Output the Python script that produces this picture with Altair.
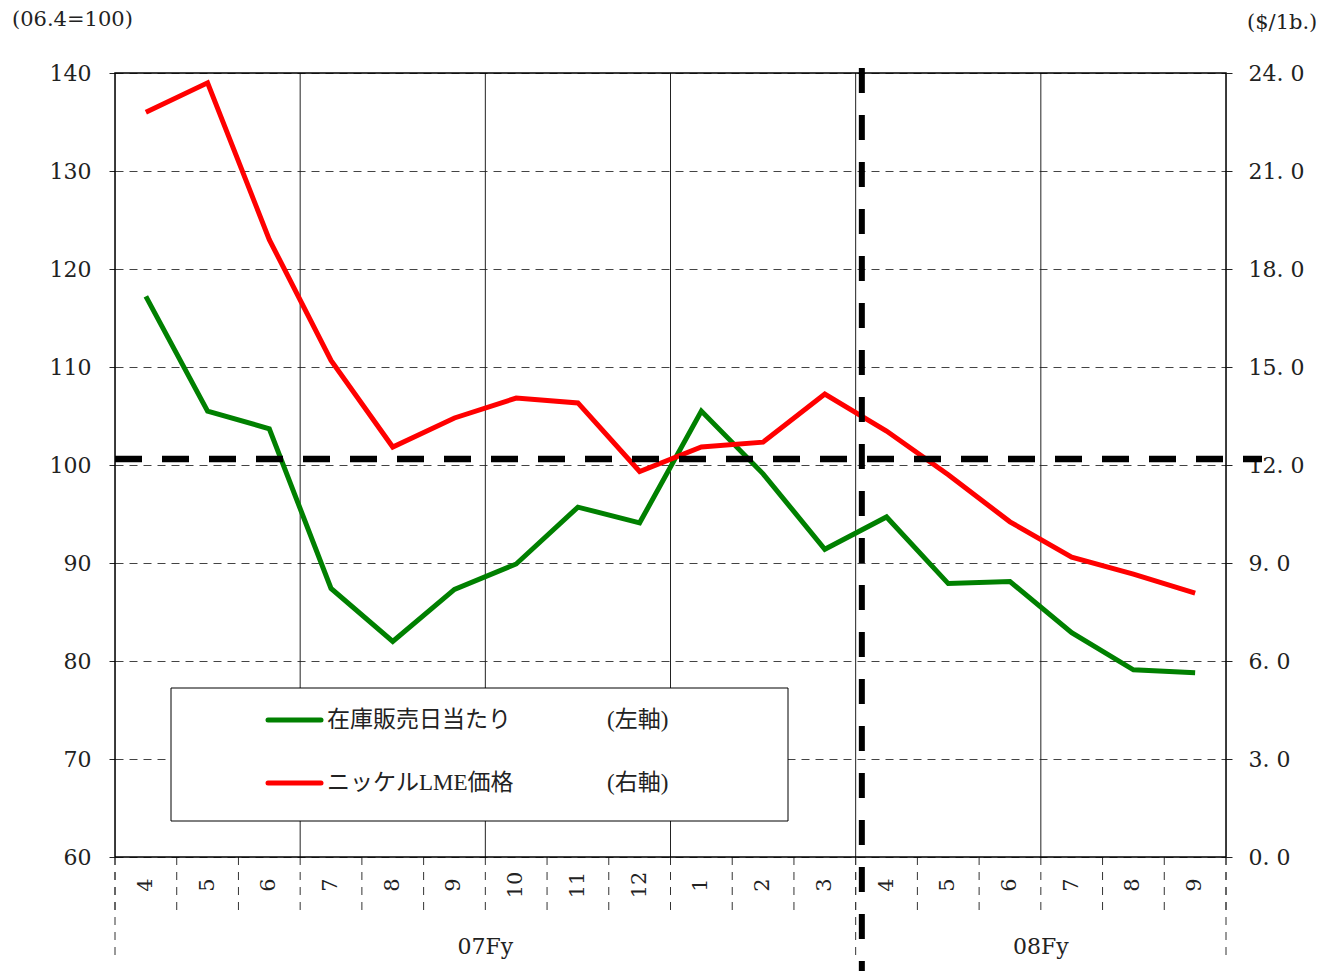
import altair as alt
import pandas as pd

months = ["4", "5", "6", "7", "8", "9", "10", "11", "12", "1", "2", "3",
          "4", "5", "6", "7", "8", "9"]
inventory = [117.2, 105.5, 103.7, 87.4, 82.0, 87.3, 89.9, 95.7, 94.1, 105.5,
             99.1, 91.4, 94.7, 87.9, 88.1, 82.9, 79.1, 78.8]
nickel = [22.8, 23.7, 18.9, 15.2, 12.55, 13.44, 14.05, 13.9, 11.8, 12.55,
          12.7, 14.17, 13.04, 11.7, 10.26, 9.18, 8.66, 8.08]
fy_labels = ["07Fy", "08Fy"]
fy_centers = [6, 15]
fy_bounds = [0, 12, 18]
quarter_bounds = [3, 6, 9, 12, 15]
ref_level = 100.6
fy_split = 12.1
legend_names = ["在庫販売日当たり", "ニッケルLME価格"]
legend_axes = ["(左軸)", "(右軸)"]

W, H = 1111, 784
SERIF = "DejaVu Serif, Noto Sans CJK JP"
LEGF = "Liberation Serif, Noto Sans CJK JP"

df = pd.DataFrame({
    "pos": [i + 0.5 for i in range(len(months))],
    "month": months,
    "inventory": inventory,
    "nickel": nickel,
})
bounds = pd.DataFrame({"b": list(range(len(months) + 1))})
fyb = pd.DataFrame({"b": fy_bounds})
qb = pd.DataFrame({"b": quarter_bounds})
fyl = pd.DataFrame({"c": fy_centers, "label": fy_labels})

xs = alt.Scale(domain=[0, 18], nice=False, zero=False)
yl = alt.Scale(domain=[60, 140], nice=False, zero=False)
yr = alt.Scale(domain=[0, 24], nice=False, zero=True)

base = alt.Chart(df)
one = "datum.pos < 1"

qgrid = alt.Chart(qb).mark_rule(color="#222", strokeWidth=1).encode(
    x=alt.X("b:Q", scale=xs, axis=None))

seps = alt.Chart(bounds).mark_rule(color="#333", strokeWidth=1, strokeDash=[8, 7]).encode(
    x=alt.X("b:Q", scale=xs, axis=None), y=alt.value(H), y2=alt.value(H + 53))
seps_long = alt.Chart(fyb).mark_rule(color="#333", strokeWidth=1, strokeDash=[8, 7]).encode(
    x=alt.X("b:Q", scale=xs, axis=None), y=alt.value(H), y2=alt.value(H + 100))

month_text = base.mark_text(font=SERIF, fontSize=21, angle=270, align="center",
                            baseline="middle", color="#222").encode(
    x=alt.X("pos:Q", scale=xs, axis=None), y=alt.value(H + 28), text="month:N")

fy_text = alt.Chart(fyl).mark_text(font=SERIF, fontSize=22, align="center",
                                   baseline="middle", color="#222").encode(
    x=alt.X("c:Q", scale=xs, axis=None), y=alt.value(H + 90), text="label:N")

green = base.mark_line(color="#008000", strokeWidth=5).encode(
    x=alt.X("pos:Q", scale=xs, axis=None),
    y=alt.Y("inventory:Q", scale=yl, axis=alt.Axis(
        orient="left", values=list(range(60, 141, 10)), title=None,
        grid=True, gridDash=[8, 6], gridColor="#444", gridWidth=1,
        labelFont=SERIF, labelFontSize=22, labelColor="#222", labelPadding=18,
        tickSize=6, tickColor="#222", domain=False)))

red = base.mark_line(color="#ff0000", strokeWidth=5).encode(
    x=alt.X("pos:Q", scale=xs, axis=None),
    y=alt.Y("nickel:Q", scale=yr, axis=alt.Axis(
        orient="right", values=[0, 3, 6, 9, 12, 15, 18, 21, 24], title=None,
        grid=False, labelExpr="replace(format(datum.value, '.1f'), '.', '. ')",
        labelFont=SERIF, labelFontSize=22, labelColor="#222", labelPadding=16,
        tickSize=6, tickColor="#222", domain=False)))

border = alt.Chart(df).mark_rect(fill=None, stroke="black", strokeWidth=1.5).encode(
    x=alt.value(0), x2=alt.value(W), y=alt.value(0), y2=alt.value(H)
).transform_filter(one)

href = alt.Chart(df).mark_rule(color="black", strokeWidth=6.5, strokeDash=[27, 20]).encode(
    y=alt.Y("r:Q", scale=yl, axis=None), x=alt.value(0), x2=alt.value(W + 36)
).transform_calculate(r=str(ref_level)).transform_filter(one)

vref = alt.Chart(df).mark_rule(color="black", strokeWidth=6, strokeDash=[25, 22]).encode(
    x=alt.X("v:Q", scale=xs, axis=None), y=alt.value(-5), y2=alt.value(H + 130)
).transform_calculate(v=str(fy_split)).transform_filter(one)

leg_box = alt.Chart(df).mark_rect(fill="white", stroke="black", strokeWidth=1).encode(
    x=alt.value(56), x2=alt.value(673), y=alt.value(615), y2=alt.value(748)
).transform_filter(one)

def leg_line(color, y):
    return alt.Chart(df).mark_rule(color=color, strokeWidth=5, strokeCap="round").encode(
        x=alt.value(153), x2=alt.value(206), y=alt.value(y)
    ).transform_filter(one)

def leg_text(txt, x, y, font=LEGF, size=23):
    return alt.Chart(df).mark_text(font=font, fontSize=size, align="left",
                                   baseline="middle", color="#222").encode(
        x=alt.value(x), y=alt.value(y), text=alt.value(txt)
    ).transform_filter(one)

title_l = leg_text("(06.4=100)", -103, -53, SERIF, 21)
title_r = leg_text("($/1b.)", 1132, -50, SERIF, 21)

chart = alt.layer(
    qgrid, seps, seps_long, month_text, fy_text,
    green, red, border,
    leg_box,
    leg_line("#008000", 647), leg_line("#ff0000", 710),
    leg_text(legend_names[0], 212, 647), leg_text(legend_axes[0], 492, 647),
    leg_text(legend_names[1], 212, 710), leg_text(legend_axes[1], 492, 710),
    href, vref, title_l, title_r,
).resolve_scale(y="independent").properties(
    width=W, height=H,
    autosize=alt.AutoSizeParams(type="none"),
    padding={"left": 107, "top": 65, "right": 94, "bottom": 114},
).configure_view(stroke=None, fill="#fcfcfc").configure(background="white")

chart.save("out.html", embed_options={"renderer": "svg", "actions": False})
